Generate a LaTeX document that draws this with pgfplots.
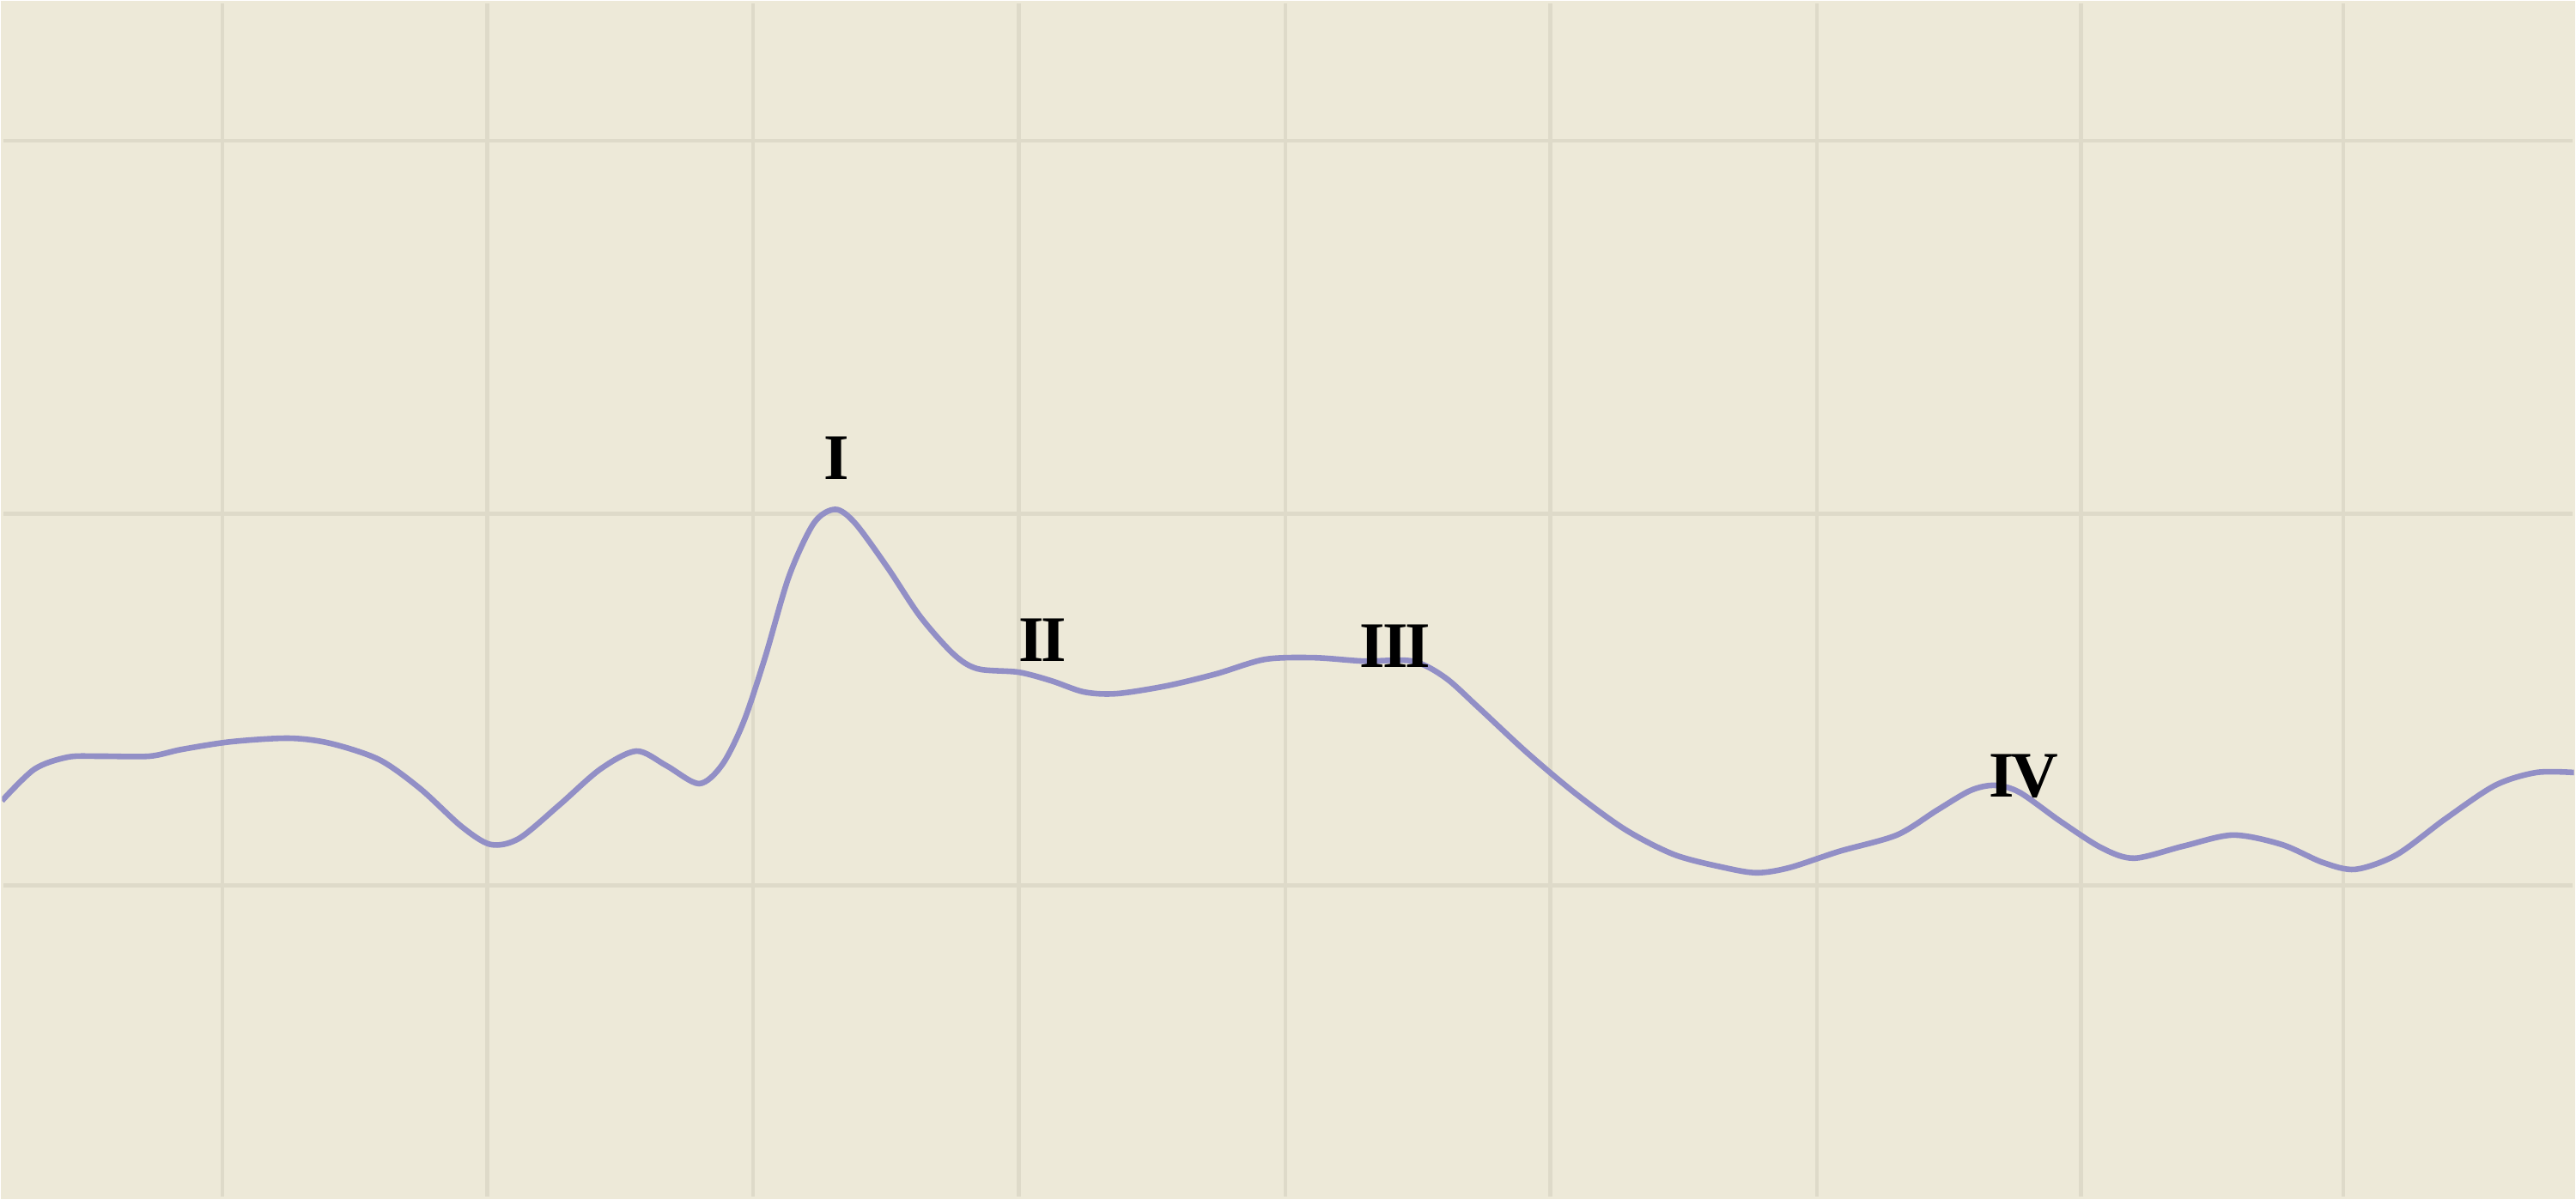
\documentclass[border=0pt]{standalone}
\usepackage{fontspec}
\setmainfont{Liberation Serif}
\usepackage{pgfplots}
\pgfplotsset{compat=1.18}
\definecolor{paper}{RGB}{237,233,216}
\definecolor{gridc}{RGB}{222,218,201}
\definecolor{trace}{RGB}{146,143,198}
\begin{document}
\begin{tikzpicture}
\begin{axis}[
  scale only axis,
  width=16cm, height=7.44cm,
  xmin=0, xmax=3000, ymin=0, ymax=1395,
  y dir=reverse,
  axis line style={paper},
  major tick length=0pt,
  xtick={257,566,876,1186,1497,1806,2117,2425,2731},
  ytick={162,597,1031},
  xticklabel=\empty, yticklabel=\empty,
  tick label style={overlay},
  grid=major,
  major grid style={gridc, line width=0.7pt},
  axis background/.style={fill=paper},
  clip=true
]
\addplot[trace, line width=1pt, smooth, no marks] coordinates {
  (0,932) (38,895) (77,881) (115,880) (172,880) (210,872) (268,863)
  (335,859) (383,865) (440,884) (488,918) (536,962) (570,983) (603,976)
  (650,937) (698,895) (740,874) (775,891) (813,912) (840,890) (865,840)
  (890,765) (918,670) (947,608) (972,592) (995,608) (1033,660) (1071,717)
  (1110,761) (1138,778) (1186,782) (1224,792) (1262,805) (1300,807)
  (1358,798) (1416,784) (1473,767) (1530,765) (1588,769) (1645,769)
  (1683,788) (1722,823) (1779,876) (1836,924) (1894,966) (1951,995)
  (2009,1010) (2047,1016) (2085,1010) (2143,991) (2210,972) (2257,943)
  (2296,920) (2324,914) (2353,922) (2401,956) (2449,987) (2487,999)
  (2544,985) (2602,972) (2659,983) (2707,1004) (2745,1012) (2793,995)
  (2850,953) (2908,914) (2956,899) (3000,899)
};
\node[font=\fontsize{11.5}{13}\selectfont\bfseries] at (axis cs:973,532) {I};
\node[font=\fontsize{11.5}{13}\selectfont\bfseries] at (axis cs:1214,745) {I\kern-0.5pt I};
\node[font=\fontsize{11.5}{13}\selectfont\bfseries] at (axis cs:1625,752) {I\kern-0.5pt I\kern-0.5pt I};
\node[font=\fontsize{11.5}{13}\selectfont\bfseries] at (axis cs:2358,903) {I\kern-0.5pt V};
\end{axis}
\end{tikzpicture}
\end{document}
